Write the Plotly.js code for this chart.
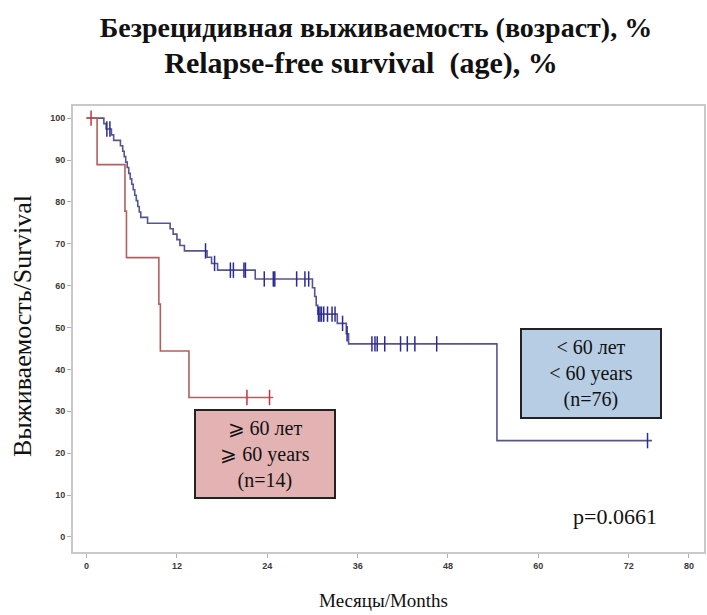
<!DOCTYPE html>
<html><head><meta charset="utf-8">
<script src="https://cdn.plot.ly/plotly-3.0.1.min.js"></script>
<style>html,body{margin:0;padding:0;background:#fff}</style>
</head><body><div id="chart" style="width:707px;height:615px"></div>
<script>
// < 60 years (n=76): Kaplan-Meier step points (months, survival %)
const youngTimes = [0, 2.3, 2.6, 3.3, 3.6, 4.5, 4.8, 5.0, 5.2, 5.4, 5.6, 5.8, 6.0, 6.2, 6.4, 6.6, 6.8, 7.0, 7.2, 8.1, 11.1, 11.5, 12.0, 12.4, 13.0, 16.0, 16.6, 17.4, 22.4, 30.0, 30.3, 30.5, 30.7, 33.3, 34.5, 34.8, 54.5, 75.1];
const youngSurv  = [100, 98.7, 97.4, 96.0, 94.7, 93.4, 92.1, 90.8, 89.5, 88.2, 86.8, 85.5, 84.2, 82.9, 81.6, 80.3, 78.9, 77.6, 76.3, 74.9, 73.6, 72.3, 71.0, 69.6, 68.3, 66.8, 65.3, 63.7, 61.6, 59.5, 57.4, 55.3, 53.2, 51.0, 48.5, 46.1, 23.0, 23.0];
const youngCensor = [2.7, 3.1, 15.8, 17.0, 19.1, 19.5, 20.9, 21.1, 23.6, 24.8, 25.0, 27.9, 29.0, 29.5, 30.8, 31.0, 31.2, 31.5, 32.0, 32.6, 33.0, 34.0, 34.6, 37.9, 38.3, 38.6, 39.6, 41.7, 42.6, 43.6, 46.5, 74.5];

// >= 60 years (n=14)
const oldTimes = [0, 1.4, 5.1, 5.3, 9.6, 9.8, 13.6, 24.8];
const oldSurv  = [100, 88.9, 77.8, 66.7, 55.6, 44.4, 33.3, 33.3];
const oldCensor = [0.6, 21.3, 24.3];

const xTicks = [0, 12, 24, 36, 48, 60, 72, 80];
const yTicks = [0, 10, 20, 30, 40, 50, 60, 70, 80, 90, 100];

const blueLine = '#55558f', blueMark = '#2b2b96';
const redLine = '#b0605f', redMark = '#c8323f';

function stepAt(times, surv, t) {
  let v = surv[0];
  for (let i = 0; i < times.length; i++) { if (times[i] <= t) v = surv[i]; }
  return v;
}

const traces = [
  {x: youngTimes, y: youngSurv, mode: 'lines', line: {shape: 'hv', color: blueLine, width: 1.6}, hoverinfo: 'skip', showlegend: false},
  {x: youngCensor, y: youngCensor.map(t => stepAt(youngTimes, youngSurv, t)), mode: 'markers',
   marker: {symbol: 'line-ns', size: 11, line: {width: 1.5, color: blueMark}}, showlegend: false},
  {x: oldTimes, y: oldSurv, mode: 'lines', line: {shape: 'hv', color: redLine, width: 1.6}, hoverinfo: 'skip', showlegend: false},
  {x: oldCensor, y: oldCensor.map(t => stepAt(oldTimes, oldSurv, t)), mode: 'markers',
   marker: {symbol: 'line-ns', size: 11, line: {width: 1.5, color: redMark}}, showlegend: false}
];

const serif = 'Liberation Serif, Times New Roman, serif';
const axisCommon = {
  showgrid: false, zeroline: false, showline: true, mirror: true,
  linecolor: '#c9c9c9', linewidth: 2,
  ticks: 'outside', ticklen: 4, tickwidth: 1, tickcolor: '#b0b0b0',
  tickfont: {family: 'Liberation Sans, Arial, sans-serif', size: 9, color: '#3a3a3a', weight: 'bold'}
};

const layout = {
  width: 707, height: 615,
  margin: {l: 73, r: 3, t: 106, b: 63},
  paper_bgcolor: '#fff', plot_bgcolor: '#fff',
  title: {text: '<b>Безрецидивная выживаемость (возраст), %</b><br><b><span style="font-size:30px">Relapse-free survival&nbsp; (age), %&nbsp;&nbsp;&nbsp;&nbsp;</span></b>',
          font: {family: serif, size: 28, color: '#111'}, x: 376 / 707, xanchor: 'center', y: 0.94, yanchor: 'middle'},
  xaxis: Object.assign({}, axisCommon, {range: [-1.8, 82], tickvals: xTicks, ticktext: xTicks.map(String)}),
  yaxis: Object.assign({}, axisCommon, {range: [-3.6, 102.9], tickvals: yTicks, ticktext: yTicks.map(String)}),
  annotations: [
    {xref: 'paper', yref: 'paper', x: (22 - 73) / 631, y: (552 - 326) / 446, text: 'Выживаемость/Survival', textangle: -90,
     showarrow: false, xanchor: 'center', yanchor: 'middle', font: {family: serif, size: 26, color: '#111'}},
    {xref: 'paper', yref: 'paper', x: (383 - 73) / 631, y: -(600 - 552) / 446, text: 'Месяцы/Months',
     showarrow: false, xanchor: 'center', yanchor: 'middle', font: {family: serif, size: 19, color: '#111'}},
    {xref: 'x', yref: 'y', x: 67.0, y: 39.1, text: '&lt; 60 лет<br>&lt; 60 years<br>(n=76)', showarrow: false,
     bgcolor: '#b7cde3', bordercolor: '#222', borderwidth: 2, borderpad: 0, width: 138, height: 87,
     font: {family: serif, size: 20, color: '#111'}},
    {xref: 'x', yref: 'y', x: 23.7, y: 19.8, text: '⩾ 60 лет<br>⩾ 60 years<br>(n=14)', showarrow: false,
     bgcolor: '#e3b3b3', bordercolor: '#222', borderwidth: 2, borderpad: 0, width: 138, height: 86,
     font: {family: serif, size: 20, color: '#111'}},
    {xref: 'x', yref: 'y', x: 70.2, y: 4.8, text: 'p=0.0661', showarrow: false,
     font: {family: serif, size: 22, color: '#111'}}
  ]
};

Plotly.newPlot('chart', traces, layout, {displayModeBar: false, staticPlot: true});
</script></body></html>
